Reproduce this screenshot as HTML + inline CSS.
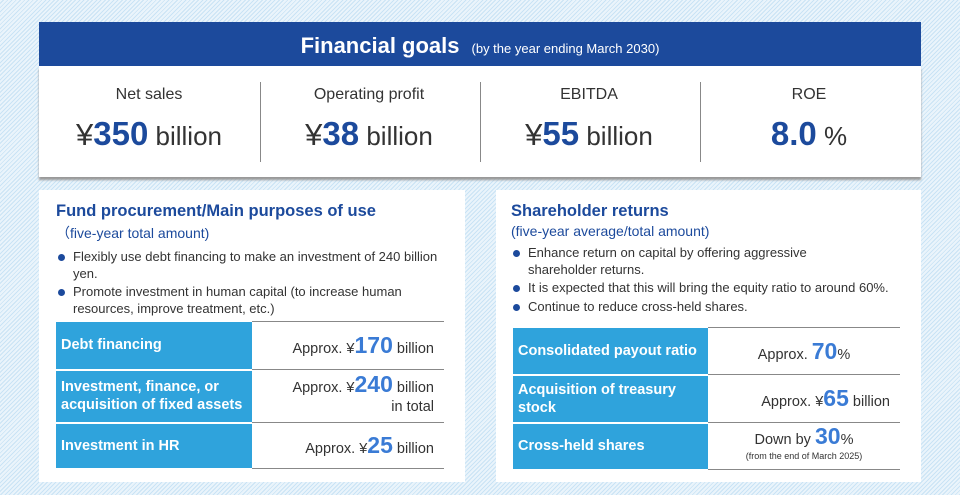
<!DOCTYPE html>
<html><head><meta charset="utf-8"><style>
*{margin:0;padding:0;box-sizing:border-box}
body{width:960px;height:495px;overflow:hidden;font-family:"Liberation Sans",sans-serif;color:#333;position:relative;
background:repeating-linear-gradient(135deg,#eaf4fb 0 2px,#c9e3f5 2px 3px)}
.abs{position:absolute}
.card{background:#fff}
.hdr{left:39px;top:22px;width:882px;height:44px;background:#1c4a9c;color:#fff;text-align:center;line-height:48px}
.hdr b{font-size:22px}
.hdr span{font-size:13px;margin-left:12px}
.top{left:39px;top:66px;width:882px;height:111px;box-shadow:0 3px 2px #999}
.col{position:absolute;top:0;width:220px;text-align:center}
.col .l{margin-top:20px;font-size:16px;color:#333}
.col .v{margin-top:11px;font-size:26px;color:#333}
.col .v i{font-style:normal;font-size:31px}
.col .v b{color:#1c4a9c;font-size:33px}
.div{position:absolute;top:16px;width:1px;height:80px;background:#888}
.panel{top:190px;height:292px}
.ttl{font-size:16.5px;font-weight:bold;color:#1c4a9c}
.sub{font-size:14px;color:#1c4a9c;margin-top:2px}
ul{list-style:none;margin-top:6px}
li{position:relative;padding-left:17px;font-size:13px;line-height:16.5px;margin-bottom:2px;color:#333}
li:before{content:"";position:absolute;left:2px;top:5px;width:7px;height:7px;border-radius:50%;background:#1c4a9c}
table{position:absolute;border-collapse:collapse}
td{padding:0}
td.k{background:#2fa3dc;color:#fff;font-weight:bold;font-size:14.5px;padding-left:5px;line-height:18px;border-bottom:2px solid #fff}
td.val{text-align:right;font-size:14.5px;border-bottom:1px solid #888;border-top:1px solid #888;padding-right:10px}
td.val b{color:#3a7bd5;font-size:23px}
td.c{text-align:center;padding-right:0}
</style></head><body>
<div class="abs hdr"><b>Financial goals</b><span>(by the year ending March 2030)</span></div>
<div class="abs card top">
 <div class="col" style="left:0"><div class="l">Net sales</div><div class="v"><i>¥</i><b>350</b> billion</div></div>
 <div class="div" style="left:221px"></div>
 <div class="col" style="left:220px"><div class="l">Operating profit</div><div class="v"><i>¥</i><b>38</b> billion</div></div>
 <div class="div" style="left:441px"></div>
 <div class="col" style="left:440px"><div class="l">EBITDA</div><div class="v"><i>¥</i><b>55</b> billion</div></div>
 <div class="div" style="left:661px"></div>
 <div class="col" style="left:660px"><div class="l">ROE</div><div class="v"><b>8.0</b> %</div></div>
</div>

<div class="abs card panel" style="left:39px;width:426px;padding:12px 17px">
 <div class="ttl">Fund procurement/Main purposes of use</div>
 <div class="sub">（five-year total amount)</div>
 <ul><li>Flexibly use debt financing to make an investment of 240 billion yen.</li>
 <li>Promote investment in human capital (to increase human resources, improve treatment, etc.)</li></ul>
 <table style="left:17px;top:131px;width:388px">
  <tr style="height:48px"><td class="k" style="width:196px">Debt financing</td><td class="val">Approx. ¥<b>170</b> billion</td></tr>
  <tr style="height:53px"><td class="k">Investment, finance, or acquisition of fixed assets</td><td class="val" style="line-height:19px">Approx. ¥<b>240</b> billion<br>in total</td></tr>
  <tr style="height:46px"><td class="k">Investment in HR</td><td class="val">Approx. ¥<b>25</b> billion</td></tr>
 </table>
</div>

<div class="abs card panel" style="left:496px;width:425px;padding:12px 15px">
 <div class="ttl">Shareholder returns</div>
 <div class="sub">(five-year average/total amount)</div>
 <ul><li style="padding-right:80px">Enhance return on capital by offering aggressive shareholder returns.</li>
 <li>It is expected that this will bring the equity ratio to around 60%.</li>
 <li>Continue to reduce cross-held shares.</li></ul>
 <table style="left:17px;top:137px;width:387px">
  <tr style="height:47px"><td class="k" style="width:195px">Consolidated payout ratio</td><td class="val c">Approx. <b>70</b>%</td></tr>
  <tr style="height:48px"><td class="k">Acquisition of treasury stock</td><td class="val">Approx. ¥<b>65</b> billion</td></tr>
  <tr style="height:47px"><td class="k">Cross-held shares</td><td class="val c" style="line-height:15px">Down by <b>30</b>%<br><span style="font-size:9px">(from the end of March 2025)</span></td></tr>
 </table>
</div>
</body></html>
